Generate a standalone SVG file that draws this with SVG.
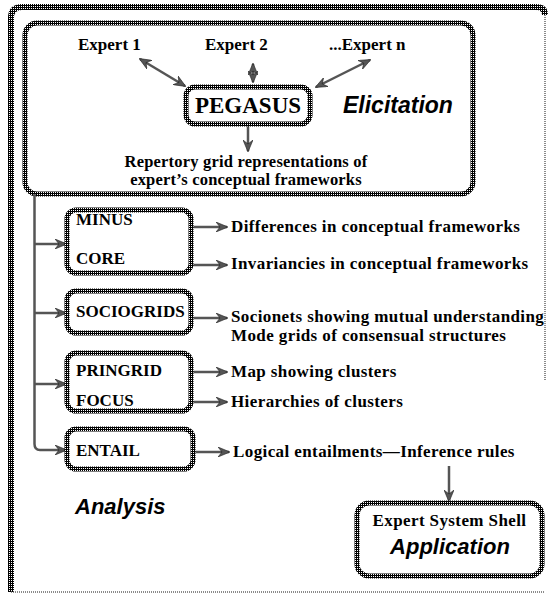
<svg xmlns="http://www.w3.org/2000/svg" width="548" height="596" viewBox="0 0 548 596">
<defs>
  <pattern id="dith" width="2" height="2" patternUnits="userSpaceOnUse">
    <rect width="2" height="2" fill="#000"/>
    <rect x="1" y="0" width="1" height="1" fill="#fff"/>
  </pattern>
  <marker id="ah" viewBox="0 0 12 10" refX="11" refY="5" markerWidth="12" markerHeight="10" markerUnits="userSpaceOnUse" orient="auto-start-reverse">
    <path d="M0,0 L12,5 L0,10 L4,5 Z" fill="#555" stroke="#222" stroke-width="0.6"/>
  </marker>
</defs>
<style>
  .box { fill:#fff; stroke:url(#dith); stroke-width:5; }
  .serif { font-family:"Liberation Serif","Times New Roman",serif; font-weight:bold; fill:#000; font-size:17px; }
  .out { letter-spacing:0.4px; }
  .rep { font-size:16.5px; letter-spacing:0.2px; }
  .sans { font-family:"Liberation Sans",Arial,sans-serif; font-weight:bold; font-style:italic; fill:#000; font-size:22px; }
  .conn { fill:none; stroke:#555; stroke-width:2.5; }
  .arr { marker-end:url(#ah); }
  .both { marker-start:url(#ah); marker-end:url(#ah); }
  .frame { fill:none; stroke:url(#dith); stroke-width:6; }
  .thin { fill:none; stroke:#666; stroke-width:1.5; stroke-dasharray:1 1; }
</style>

<g id="frame">
  <path class="frame" d="M11,592 L11,18 Q11,7 22,7 L536,7 Q545,7 545,15"/>
  <path class="thin" d="M545,15 L545,380"/>
  <path class="thin" d="M11,592 L545,592"/>
</g>

<g id="elicitation">
  <rect class="box" x="25" y="23" width="448" height="171" rx="12"/>
  <text class="sans" x="343" y="113" style="font-size:23px">Elicitation</text>
</g>

<g id="connectors">
  <path class="conn both" d="M140,59 L185,86"/>
  <path class="conn both" d="M253,64 L253,82"/>
  <path class="conn both" d="M370,60 L316,87"/>
  <path class="conn arr" d="M248,124 L248,151"/>
  <path class="conn" d="M34.5,194 L34.5,444 Q34.5,450 40,450 L66,450" marker-end="url(#ah)"/>
  <path class="conn arr" d="M34.5,244 L66,244"/>
  <path class="conn arr" d="M34.5,313 L66,313"/>
  <path class="conn arr" d="M34.5,384 L66,384"/>
  <path class="conn arr" d="M191,227 L227,227"/>
  <path class="conn arr" d="M191,265 L227,265"/>
  <path class="conn arr" d="M191,318 L227,318"/>
  <path class="conn arr" d="M191,372 L227,372"/>
  <path class="conn arr" d="M191,402 L227,402"/>
  <path class="conn arr" d="M193,452 L229,452"/>
  <path class="conn arr" d="M449,466 L449,501"/>
</g>

<g id="expert1"><text class="serif" x="78" y="50">Expert 1</text></g>
<g id="expert2"><text class="serif" x="205" y="50">Expert 2</text></g>
<g id="expertn"><text class="serif" x="329" y="50">...Expert n</text></g>

<g id="pegasus">
  <rect class="box" x="186" y="87" width="124" height="37" rx="9"/>
  <text class="serif" x="248" y="113" text-anchor="middle" style="font-size:23px">PEGASUS</text>
</g>

<g id="repertory">
  <text class="serif rep" x="246" y="167" text-anchor="middle">Repertory grid representations of</text>
  <text class="serif rep" x="246" y="185" text-anchor="middle">expert’s conceptual frameworks</text>
</g>

<g id="minus-core">
  <rect class="box" x="67" y="210" width="124" height="63" rx="9"/>
  <text class="serif" x="76" y="225">MINUS</text>
  <text class="serif" x="76" y="264">CORE</text>
</g>

<g id="sociogrids">
  <rect class="box" x="67" y="291" width="124" height="42" rx="9"/>
  <text class="serif" x="76" y="317">SOCIOGRIDS</text>
</g>

<g id="pringrid-focus">
  <rect class="box" x="67" y="353" width="124" height="58" rx="9"/>
  <text class="serif" x="76" y="376">PRINGRID</text>
  <text class="serif" x="76" y="406">FOCUS</text>
</g>

<g id="entail">
  <rect class="box" x="67" y="429" width="126" height="40" rx="9"/>
  <text class="serif" x="76" y="456">ENTAIL</text>
</g>

<g id="outputs">
  <text class="serif out" x="231" y="232">Differences in conceptual frameworks</text>
  <text class="serif out" x="231" y="269">Invariancies in conceptual frameworks</text>
  <text class="serif out" x="231" y="322">Socionets showing mutual understanding</text>
  <text class="serif out" x="231" y="341">Mode grids of consensual structures</text>
  <text class="serif out" x="231" y="377">Map showing clusters</text>
  <text class="serif out" x="231" y="407">Hierarchies of clusters</text>
  <text class="serif out" x="233" y="457">Logical entailments—Inference rules</text>
</g>

<g id="analysis">
  <text class="sans" x="75" y="514">Analysis</text>
</g>

<g id="application">
  <rect class="box" x="357" y="503" width="185" height="73" rx="12"/>
  <text class="serif out" x="449.5" y="526" text-anchor="middle">Expert System Shell</text>
  <text class="sans" x="450" y="554" text-anchor="middle">Application</text>
</g>
</svg>
